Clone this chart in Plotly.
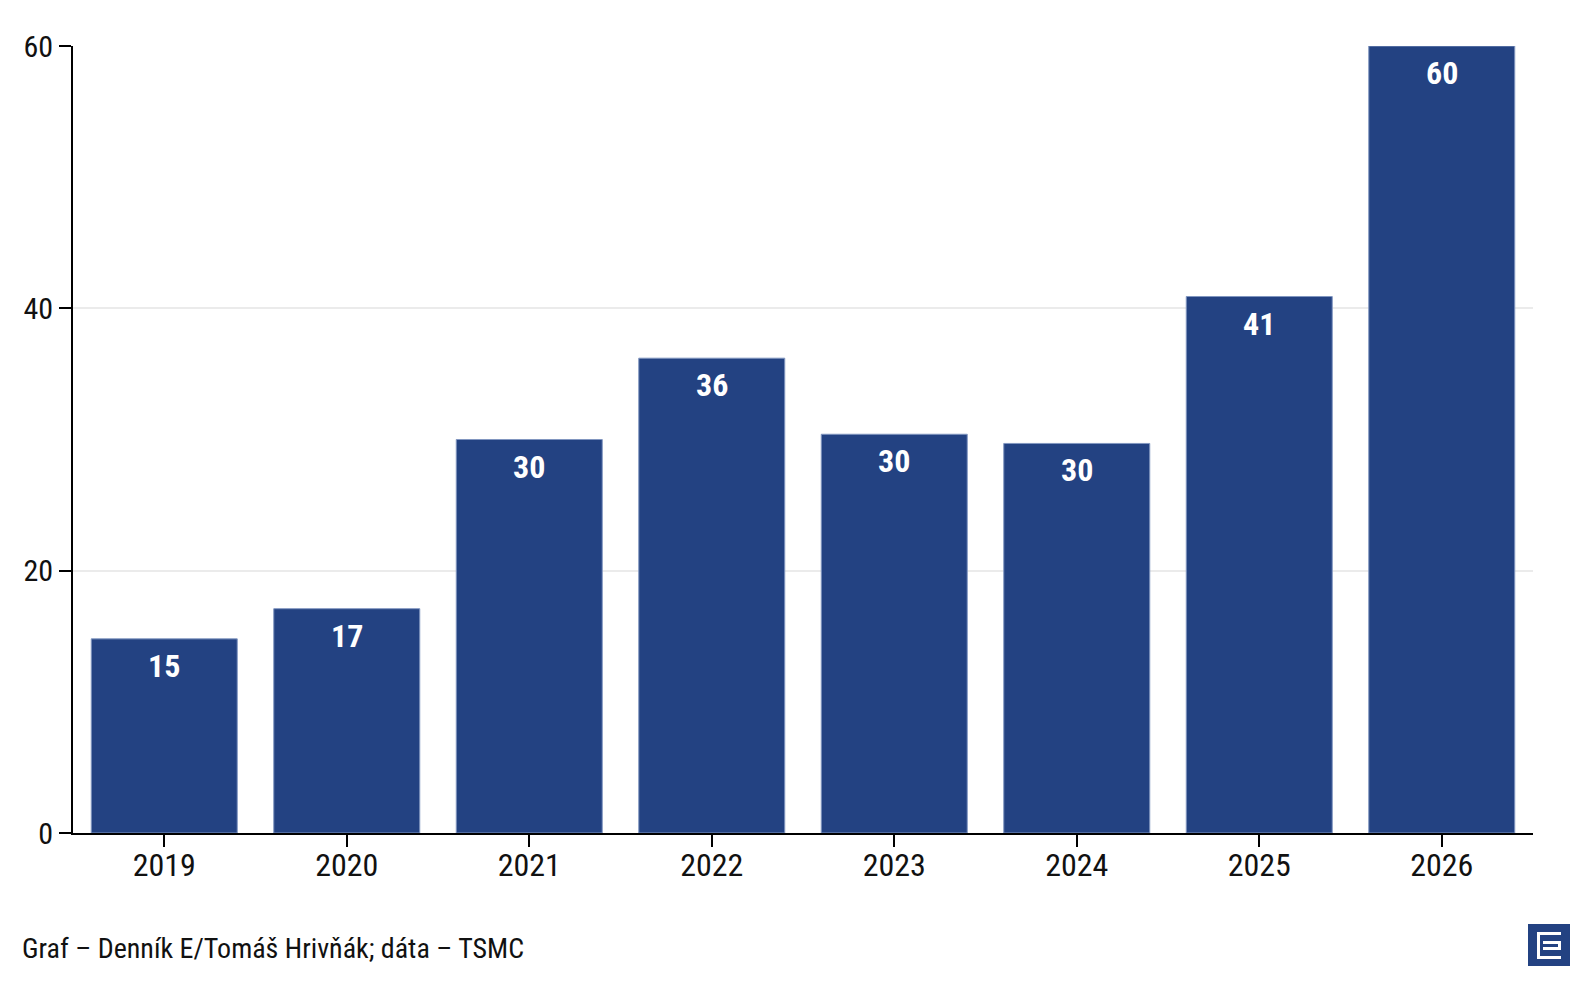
import plotly.graph_objects as go

years = ["2019", "2020", "2021", "2022", "2023", "2024", "2025", "2026"]
values = [14.8, 17.1, 30.0, 36.2, 30.4, 29.7, 40.9, 60.0]
labels = ["15", "17", "30", "36", "30", "30", "41", "60"]
y_ticks = [0, 20, 40, 60]
footer = "Graf – Denník E/Tomáš Hrivňák; dáta – TSMC"

FONT = "Roboto Condensed, Roboto, sans-serif"
BAR = "#234282"

fig = go.Figure(
    go.Bar(
        x=years,
        y=values,
        marker=dict(color=BAR, line=dict(color="#8196c0", width=1)),
        hoverinfo="x+y",
    )
)

# category index positions for value labels
for idx, (v, lab) in enumerate(zip(values, labels)):
    fig.add_annotation(
        x=idx, y=v, text=f"<b>{lab}</b>",
        showarrow=False, yanchor="top", yshift=-6,
        font=dict(family=FONT, size=32, color="white"),
    )

fig.update_layout(
    width=1590,
    height=994,
    margin=dict(l=73, r=57, t=46, b=161),
    paper_bgcolor="white",
    plot_bgcolor="white",
    bargap=0.2,
    showlegend=False,
    font=dict(family=FONT, size=30, color="#111111"),
)

fig.update_xaxes(
    type="category",
    range=[-0.5, len(years) - 0.5],
    showline=True,
    linecolor="black",
    linewidth=2,
    ticks="outside",
    ticklen=12,
    tickwidth=2,
    tickcolor="black",
    showgrid=False,
    ticklabelstandoff=-9,
    tickfont=dict(family=FONT, size=32, color="#111111"),
)

fig.update_yaxes(
    range=[0, 60],
    tickvals=y_ticks,
    showline=True,
    linecolor="black",
    linewidth=2,
    ticks="outside",
    ticklen=12,
    tickwidth=2,
    tickcolor="black",
    showgrid=True,
    gridcolor="#ebebeb",
    gridwidth=2,
    zeroline=False,
    tickfont=dict(family=FONT, size=30, color="#111111"),
)


def px_x(px):
    return (px - 73) / 1460


def px_y(py):
    return (833 - py) / 787


fig.add_annotation(
    text=footer,
    xref="paper", yref="paper",
    x=px_x(20), y=px_y(948),
    xanchor="left", yanchor="middle",
    showarrow=False,
    font=dict(family=FONT, size=28, color="#111111"),
)

# logo box
fig.add_shape(type="rect", xref="paper", yref="paper",
              x0=px_x(1528), x1=px_x(1570), y0=px_y(966), y1=px_y(924),
              fillcolor=BAR, line=dict(width=0))
fig.add_shape(type="path", xref="paper", yref="paper",
              path=(f"M {px_x(1537)},{px_y(932)} L {px_x(1561)},{px_y(932)} L {px_x(1561)},{px_y(935)} "
                    f"L {px_x(1540)},{px_y(935)} L {px_x(1540)},{px_y(956)} L {px_x(1561)},{px_y(956)} "
                    f"L {px_x(1561)},{px_y(959)} L {px_x(1537)},{px_y(959)} Z"),
              fillcolor="white", line=dict(width=0))
fig.add_shape(type="path", xref="paper", yref="paper",
              path=(f"M {px_x(1543)},{px_y(941)} L {px_x(1561)},{px_y(941)} L {px_x(1561)},{px_y(950)} "
                    f"L {px_x(1543)},{px_y(950)} L {px_x(1543)},{px_y(947)} L {px_x(1558)},{px_y(947)} "
                    f"L {px_x(1558)},{px_y(944)} L {px_x(1543)},{px_y(944)} Z"),
              fillcolor="white", line=dict(width=0))

fig.write_html("out.html")
